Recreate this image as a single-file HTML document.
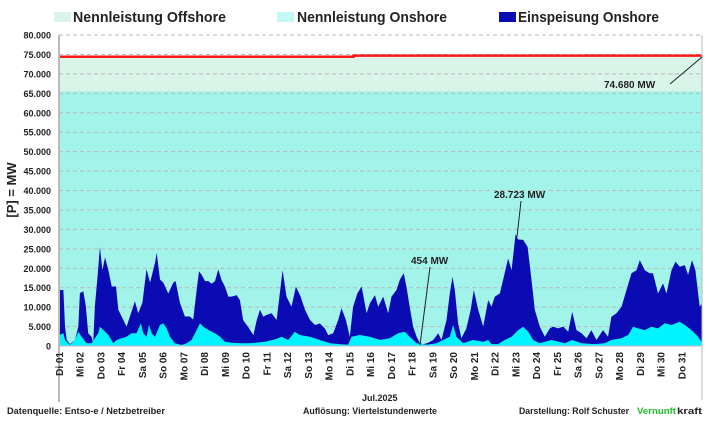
<!DOCTYPE html>
<html><head><meta charset="utf-8"><style>
body{margin:0;background:#fff;width:709px;height:418px;overflow:hidden;font-family:"Liberation Sans",Arial,sans-serif}
svg text{font-family:"Liberation Sans",Arial,sans-serif;font-weight:bold}
</style></head><body>
<svg id="chart" width="709" height="418" viewBox="0 0 709 418" xmlns="http://www.w3.org/2000/svg"></svg>
<script>
const dayLabels=["Di 01","Mi 02","Do 03","Fr 04","Sa 05","So 06","Mo 07","Di 08","Mi 09","Do 10","Fr 11","Sa 12","So 13","Mo 14","Di 15","Mi 16","Do 17","Fr 18","Sa 19","So 20","Mo 21","Di 22","Mi 23","Do 24","Fr 25","Sa 26","So 27","Mo 28","Di 29","Mi 30","Do 31"];
const yTicks=[0,5000,10000,15000,20000,25000,30000,35000,40000,45000,50000,55000,60000,65000,70000,75000,80000];
const yTickLabels=["0","5.000","10.000","15.000","20.000","25.000","30.000","35.000","40.000","45.000","50.000","55.000","60.000","65.000","70.000","75.000","80.000"];
const onshoreCapacity=65500;
const offshoreCapDays=[0,14.2,14.2,31];
const offshoreCapMW=[74400,74400,74680,74680];
const blueDays=[0,0.21,0.29,0.37,0.53,0.77,0.93,1.01,1.17,1.29,1.41,1.57,1.65,1.73,1.86,1.97,2.09,2.22,2.38,2.54,2.75,2.86,3.02,3.26,3.42,3.58,3.66,3.82,4.02,4.22,4.39,4.63,4.71,4.87,5.03,5.27,5.51,5.62,5.83,6.07,6.31,6.47,6.64,6.75,6.88,7.04,7.2,7.36,7.52,7.68,7.84,8,8.16,8.32,8.56,8.72,8.88,9.12,9.37,9.53,9.69,9.85,10.01,10.25,10.49,10.78,10.97,11.21,11.42,11.65,11.86,12.1,12.34,12.58,12.82,12.98,13.22,13.46,13.62,13.83,14.02,14.18,14.38,14.59,14.83,14.99,15.23,15.39,15.63,15.87,16.03,16.27,16.43,16.62,16.75,16.91,17.07,17.24,17.4,17.56,17.8,18.04,18.28,18.44,18.68,18.84,18.97,19.08,19.24,19.4,19.64,19.85,20,20.21,20.45,20.69,20.85,21.01,21.25,21.41,21.65,21.82,22.01,22.14,22.38,22.59,22.78,22.94,23.18,23.42,23.66,23.82,24.06,24.31,24.55,24.74,24.95,25.19,25.43,25.67,25.91,26.23,26.47,26.63,26.88,27.12,27.36,27.6,27.84,28,28.24,28.48,28.64,28.88,29.12,29.29,29.53,29.72,29.93,30.17,30.33,30.52,30.68,30.89,31];
const blueMW=[14400,14400,4970,1550,500,1550,4970,13600,14100,10300,3260,2400,700,10300,18000,25500,19500,22800,19500,15300,15300,9300,7600,5000,7600,10200,11500,8400,11100,19700,16300,21400,24000,17100,16300,13500,16300,16700,11100,7600,7600,6800,14500,19200,18300,16700,16700,16000,16700,19700,16900,15300,12700,12700,13100,11800,6600,4900,2800,6600,9300,7500,8000,8400,6700,19500,12700,10100,15300,12700,9300,6700,5400,5800,4500,2800,3260,6700,9700,6700,2400,10100,13500,15300,8400,11000,13100,10100,12700,8400,12700,14400,17000,18700,15300,10100,5000,2400,700,454,860,1540,3260,1540,6700,13500,17800,14400,5800,1970,4540,9300,14400,9300,5000,11800,10100,12700,13500,17000,22500,19500,28723,27400,27300,25500,17000,9300,5000,2400,4540,5000,4540,5000,3690,8800,4100,3260,1970,4100,1540,4100,2400,7500,8400,10100,14400,18700,19500,22100,19500,18700,18700,13500,16100,13500,19500,21700,20400,20800,18300,22100,19500,10100,11000];
const cyanDays=[0,0.21,0.29,0.53,0.77,0.93,1.09,1.33,1.57,1.89,1.97,2.14,2.38,2.62,2.78,3.02,3.26,3.5,3.74,3.95,4.06,4.22,4.34,4.47,4.63,4.87,5.03,5.19,5.35,5.59,5.91,6.15,6.39,6.64,6.8,6.96,7.2,7.52,7.76,8,8.32,8.8,9.12,9.44,9.93,10.41,10.73,11.05,11.37,11.61,12.1,12.58,13.07,13.54,13.94,14.1,14.5,14.99,15.47,15.95,16.35,16.67,16.91,17.24,17.72,18.2,18.52,18.84,19,19.16,19.48,19.96,20.45,20.69,20.85,21.17,21.49,21.82,22.14,22.38,22.62,22.86,23.18,23.74,24.39,24.74,25.19,25.83,26.31,26.63,27.12,27.44,27.68,27.92,28.24,28.56,28.88,29.2,29.53,29.93,30.17,30.49,30.81,30.97,31];
const cyanMW=[2800,3260,1540,260,1540,3690,2400,700,700,3260,4970,4110,2830,700,1540,1970,2400,3260,3260,5830,3260,2400,5400,3260,2400,5400,5830,4540,2400,700,260,700,1540,4110,5830,4970,4110,3260,2400,1110,860,700,700,860,1110,1710,2400,1540,3690,2830,2400,1540,700,500,340,2400,2830,2400,1540,1970,3260,3690,2400,700,340,700,1540,2400,5400,2400,700,1540,1110,1540,500,500,1540,2400,4100,4970,3690,1540,700,1540,700,1540,700,500,700,1540,1970,2830,4970,4540,4100,4970,4540,5830,5400,6260,5400,4100,2400,1110,900];

const X0=59,X1=702,Y0=346,Y1=35;
const xS=d=>X0+d/31*(X1-X0);
const yS=v=>Y0-v/80000*(Y0-Y1);
const svg=document.getElementById('chart');
const NS='http://www.w3.org/2000/svg';
function mk(tag,attrs,parent){const e=document.createElementNS(NS,tag);for(const k in attrs)e.setAttribute(k,attrs[k]);(parent||svg).appendChild(e);return e;}

// offshore capacity band
let p='M'+xS(0)+','+Y0;
offshoreCapDays.forEach((d,i)=>{p+=' L'+xS(d)+','+yS(offshoreCapMW[i]);});
p+=' L'+xS(31)+','+Y0+' Z';
let e=mk('path',{d:p,fill:'#d9f5e9'});


e=mk('rect',{x:X0,y:yS(onshoreCapacity),width:X1-X0,height:Y0-yS(onshoreCapacity),fill:'#a2f4ea'});



// grid
yTicks.forEach((v,i)=>{
  if(v>0){const g=mk('line',{x1:X0,x2:X1,y1:yS(v),y2:yS(v),stroke:'#b8b8b8','stroke-width':1,'stroke-dasharray':'4,3'});
  
  }
  const t=mk('text',{x:51,y:yS(v)+3.5,'text-anchor':'end','font-size':9,fill:'#222'});
  t.textContent=yTickLabels[i];
  
  
});

function area(days,vals,fill,name){
  let d='M'+xS(days[0])+','+Y0;
  days.forEach((t,i)=>{d+=' L'+xS(t).toFixed(1)+','+yS(vals[i]).toFixed(1);});
  d+=' L'+xS(days[days.length-1])+','+Y0+' Z';
  const a=mk('path',{d:d,fill:fill});
  
  
}
area(blueDays,blueMW,'#0b0bb4','onshore-feed-in-area');
area(cyanDays,cyanMW,'#00f4ff','offshore-feed-in-area');

// red capacity line
let rl='';
offshoreCapDays.forEach((d,i)=>{rl+=(i?' L':'M')+xS(d)+','+yS(offshoreCapMW[i]);});
e=mk('path',{d:rl,fill:'none',stroke:'#ff1a1a','stroke-width':2.5});



// axes
e=mk('line',{x1:X0,x2:X0,y1:Y1,y2:402,stroke:'#bbb','stroke-width':2});


e=mk('line',{x1:X1,x2:X1,y1:Y1,y2:400,stroke:'#bbb','stroke-width':1});


e=mk('line',{x1:X0,x2:X1,y1:Y0,y2:Y0,stroke:'#bbb','stroke-width':1});



dayLabels.forEach((l,i)=>{
  const x=xS(i)+4;
  const t=mk('text',{x:x,y:352,'text-anchor':'end','font-size':10,fill:'#222',transform:'rotate(-90 '+x+' 352)'});
  t.textContent=l;
  
  
});

function txt(x,y,s,size,name,extra){const t=mk('text',Object.assign({x:x,y:y,'font-size':size,fill:'#222'},extra||{}));t.textContent=s;return t;}
function ln(x1,y1,x2,y2,name){const l=mk('line',{x1:x1,y1:y1,x2:x2,y2:y2,stroke:'#222','stroke-width':1});}

// annotations
txt(604,88,'74.680 MW',10,'capacity-annotation');
ln(670,84,702,57,'capacity-annotation-line');
txt(411,264,'454 MW',10,'min-annotation');
ln(430,267,420,345,'min-annotation-line');
txt(494,198,'28.723 MW',10,'max-annotation');
ln(521,201,517,237,'max-annotation-line');

// y title
txt(16,190,'[P] = MW',13,'y-axis-title',{'text-anchor':'middle',transform:'rotate(-90 16 190)'});
txt(362,401,'Jul.2025',9,'x-axis-title');

// legend
function leg(x,color,label,tx,w,name){
  const r=mk('rect',{x:x,y:12,width:17,height:10,fill:color});
  
  
  txt(tx,22,label,15,name,{textLength:w,lengthAdjust:'spacingAndGlyphs'});
}
leg(54,'#d9f5e9','Nennleistung Offshore',73,153,'legend-offshore-capacity');
leg(277,'#c4f8f5','Nennleistung Onshore',297,150,'legend-onshore-capacity');
leg(499,'#0b0bb4','Einspeisung Onshore',518,141,'legend-onshore-feed-in');

// footer
txt(7,414,'Datenquelle:  Entso-e  / Netzbetreiber',9,'footer-source',{textLength:158,lengthAdjust:'spacingAndGlyphs'});
txt(303,414,'Auflösung: Viertelstundenwerte',9,'footer-resolution',{textLength:134,lengthAdjust:'spacingAndGlyphs'});
txt(519,414,'Darstellung:  Rolf Schuster',9,'footer-author',{textLength:110,lengthAdjust:'spacingAndGlyphs'});
txt(637,414,'Vernunft',9,'footer-brand-green',{fill:'#22c02a',textLength:39,lengthAdjust:'spacingAndGlyphs'});
txt(677,414,'kraft',9,'footer-brand',{textLength:25,lengthAdjust:'spacingAndGlyphs'});
</script>
</body></html>
